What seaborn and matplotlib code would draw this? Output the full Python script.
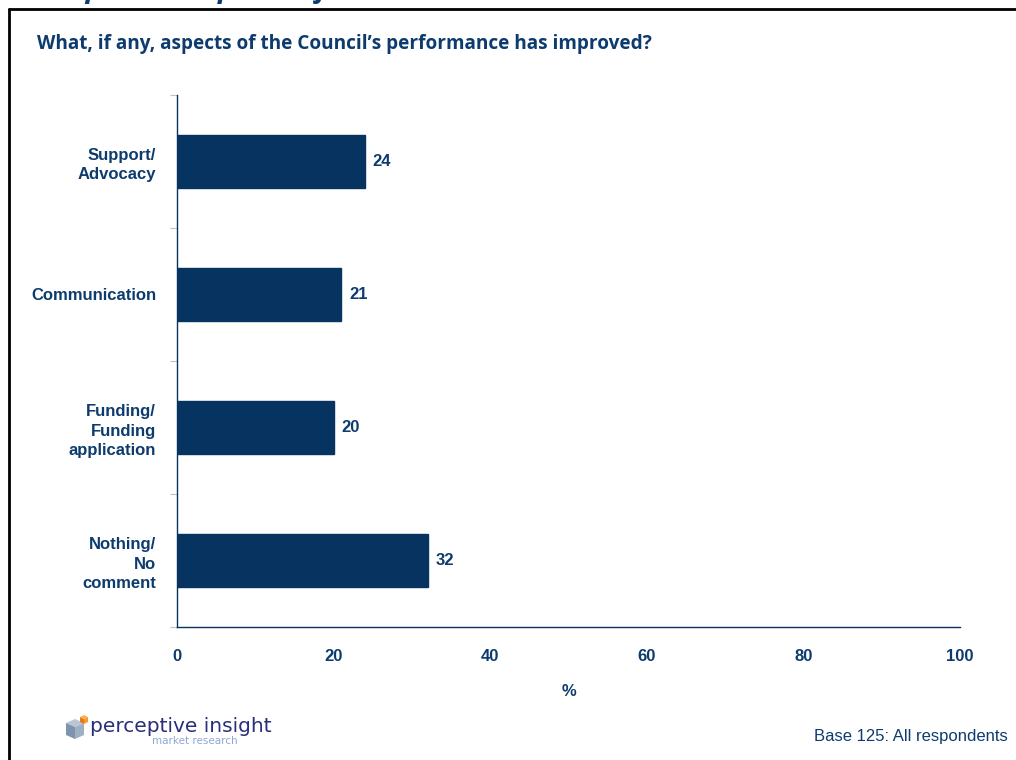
import matplotlib
matplotlib.use("Agg")
import matplotlib.pyplot as plt
from matplotlib.patches import Polygon
from matplotlib.lines import Line2D
import seaborn as sns
import pandas as pd

# Survey results
categories = ["Support/\nAdvocacy", "Communication", "Funding/\nFunding\napplication", "Nothing/\nNo\ncomment"]
percentages = [24, 21, 20, 32]
x_ticks = [0, 20, 40, 60, 80, 100]

title = "What, if any, aspects of the Council\u2019s performance has improved?"
header = "Improved aspects of service"
x_label = "%"
base_note = "Base 125: All respondents"

NAVY = "#06335F"
TEXT = "#0D3B6E"

sns.set_theme(style="white")
plt.rcParams["font.family"] = ["Liberation Sans", "DejaVu Sans"]

W, H = 1016, 760
fig = plt.figure(figsize=(W / 100, H / 100), dpi=100)


def fx(px):
    return px / W


def fy(py):
    return 1 - py / H


ax = fig.add_axes([fx(177), fy(627), fx(960) - fx(177), fy(95) - fy(627)])

df = pd.DataFrame({"category": categories, "pct": percentages})
sns.barplot(data=df, x="pct", y="category", orient="h", color=NAVY,
            saturation=1, width=0.4, ax=ax, edgecolor=NAVY)

ax.set_xlim(0, 100)
ax.set_ylim(len(categories) - 0.5, -0.5)
ax.set_xticks(x_ticks)
ax.set_xticklabels([str(t) for t in x_ticks], fontweight="bold", fontsize=12, color=TEXT)
ax.tick_params(axis="x", length=5, width=0.8, color="#B8C4D4", pad=11)

# category labels without ticks; boundary ticks as minor marks
ax.set_yticks(range(len(categories)))
ax.set_yticklabels(categories, fontweight="bold", fontsize=12, color=TEXT,
                   linespacing=1.35)
ax.tick_params(axis="y", which="major", length=0, pad=15)
ax.set_yticks([i - 0.5 for i in range(len(categories) + 1)], minor=True)
ax.tick_params(axis="y", which="minor", length=5, width=0.8, color="#B8C4D4", left=True)

ax.set_xlabel(x_label, fontweight="bold", fontsize=12, color=TEXT, labelpad=14)
ax.set_ylabel("")

for side in ["top", "right"]:
    ax.spines[side].set_visible(False)
for side in ["left", "bottom"]:
    ax.spines[side].set_color(NAVY)
    ax.spines[side].set_linewidth(1.0)

# value labels at bar ends
for i, v in enumerate(percentages):
    ax.text(v + 1.0, i, str(v), va="center", ha="left",
            fontweight="bold", fontsize=12, color=TEXT)

# slide frame
fig.add_artist(Line2D([fx(9), fx(W)], [fy(9), fy(9)], color="black", lw=2.0,
                      transform=fig.transFigure))
fig.add_artist(Line2D([fx(9), fx(9)], [fy(9), fy(H)], color="black", lw=2.0,
                      transform=fig.transFigure))

# slide header, running off the top edge
fig.text(fx(50), fy(-3), header, fontsize=21, fontweight="bold", fontstyle="italic",
         color=TEXT, ha="left", va="baseline", family=["Open Sans", "DejaVu Sans"])

fig.text(fx(37), fy(44), title, fontsize=13.7, fontweight="bold", color=TEXT,
         ha="left", va="center", family=["Open Sans", "DejaVu Sans"])

fig.text(fx(1008), fy(737), base_note, fontsize=12, color=TEXT,
         ha="right", va="center")

# company logo: small cube cluster and wordmark
def poly(pts, color):
    fig.add_artist(Polygon([(fx(x), fy(y)) for x, y in pts], closed=True,
                           facecolor=color, edgecolor="none", transform=fig.transFigure))

poly([(66, 723), (75, 719), (84, 723), (75, 727)], "#B9C6D6")
poly([(66, 723), (75, 727), (75, 739), (66, 735)], "#7E93AD")
poly([(75, 727), (84, 723), (84, 735), (75, 739)], "#9FB0C4")
poly([(80, 717), (84, 715), (88, 717), (84, 719)], "#F7B24A")
poly([(80, 717), (84, 719), (84, 724), (80, 722)], "#E57A1F")
poly([(84, 719), (88, 717), (88, 722), (84, 724)], "#F29A2E")

fig.text(fx(90), fy(727), "perceptive insight", fontsize=14.5, color="#2A2F7A",
         ha="left", va="center", family=["DejaVu Sans"])
fig.text(fx(152), fy(741), "market research", fontsize=7.5, color="#8EA6D8",
         ha="left", va="center", family=["DejaVu Sans"])

fig.savefig("out.png", dpi=100, facecolor="white")
